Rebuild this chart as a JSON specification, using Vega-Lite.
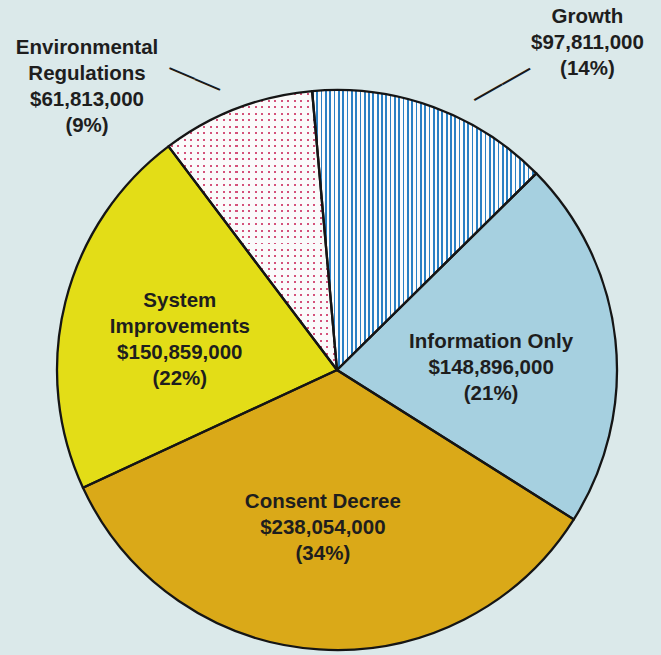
{
"$schema": "https://vega.github.io/schema/vega-lite/v6.json",
"width": 648,
"height": 570,
"autosize": {"type": "none"},
"padding": {"left": 13, "top": 85, "right": 0, "bottom": 0},
"background": "#dbe9ea",
"config": {"view": {"stroke": null}},
"data": {"values": [
{"order": 1, "name": "Growth", "value": 97811000},
{"order": 2, "name": "Information Only", "value": 148896000},
{"order": 3, "name": "Consent Decree", "value": 238054000},
{"order": 4, "name": "System\nImprovements", "value": 150859000},
{"order": 5, "name": "Environmental\nRegulations", "value": 61813000}
]},
"transform": [
{"joinaggregate": [{"op": "sum", "field": "value", "as": "total"}]},
{"stack": "value", "groupby": [], "sort": [{"field": "order", "order": "ascending"}], "as": ["v0", "v1"]},
{"calculate": "(datum.v0 + datum.v1) / 2", "as": "mid"},
{"calculate": "datum.name + '\\n' + format(datum.value, '$,') + '\\n(' + format(datum.value / datum.total, '.0%') + ')'", "as": "label"}
],
"layer": [
{"mark": {"type": "arc", "outerRadius": 280},
 "encoding": {
  "theta": {"field": "v1", "type": "quantitative", "scale": {"range": [-0.089, 6.1942], "nice": false, "zero": true}},
  "theta2": {"field": "v0"},
  "fill": {"field": "name", "type": "nominal", "legend": null, "scale": {"domain": ["Growth", "Information Only", "Consent Decree", "System\nImprovements", "Environmental\nRegulations"], "range": ["#fbfcfc", "#a6d0e0", "#daa918", "#e3dd17", "#fafafa"]}}
 }},
{"transform": [{"filter": "datum.order === 1"}],
 "mark": {"type": "arc", "outerRadius": 280, "fill": {"gradient": "linear", "x1": 0, "y1": 0, "x2": 1, "y2": 0, "stops": [
{"offset":0,"color":"#2a80c4"},{"offset":0.0077,"color":"#2a80c4"},{"offset":0.0077,"color":"#fbfcfc"},
{"offset":0.0192,"color":"#fbfcfc"},{"offset":0.0192,"color":"#2a80c4"},{"offset":0.0269,"color":"#2a80c4"},{"offset":0.0269,"color":"#fbfcfc"},
{"offset":0.0385,"color":"#fbfcfc"},{"offset":0.0385,"color":"#2a80c4"},{"offset":0.0462,"color":"#2a80c4"},{"offset":0.0462,"color":"#fbfcfc"},
{"offset":0.0577,"color":"#fbfcfc"},{"offset":0.0577,"color":"#2a80c4"},{"offset":0.0654,"color":"#2a80c4"},{"offset":0.0654,"color":"#fbfcfc"},
{"offset":0.0769,"color":"#fbfcfc"},{"offset":0.0769,"color":"#2a80c4"},{"offset":0.0846,"color":"#2a80c4"},{"offset":0.0846,"color":"#fbfcfc"},
{"offset":0.0962,"color":"#fbfcfc"},{"offset":0.0962,"color":"#2a80c4"},{"offset":0.1039,"color":"#2a80c4"},{"offset":0.1039,"color":"#fbfcfc"},
{"offset":0.1154,"color":"#fbfcfc"},{"offset":0.1154,"color":"#2a80c4"},{"offset":0.1231,"color":"#2a80c4"},{"offset":0.1231,"color":"#fbfcfc"},
{"offset":0.1346,"color":"#fbfcfc"},{"offset":0.1346,"color":"#2a80c4"},{"offset":0.1423,"color":"#2a80c4"},{"offset":0.1423,"color":"#fbfcfc"},
{"offset":0.1538,"color":"#fbfcfc"},{"offset":0.1538,"color":"#2a80c4"},{"offset":0.1615,"color":"#2a80c4"},{"offset":0.1615,"color":"#fbfcfc"},
{"offset":0.1731,"color":"#fbfcfc"},{"offset":0.1731,"color":"#2a80c4"},{"offset":0.1808,"color":"#2a80c4"},{"offset":0.1808,"color":"#fbfcfc"},
{"offset":0.1923,"color":"#fbfcfc"},{"offset":0.1923,"color":"#2a80c4"},{"offset":0.2,"color":"#2a80c4"},{"offset":0.2,"color":"#fbfcfc"},
{"offset":0.2115,"color":"#fbfcfc"},{"offset":0.2115,"color":"#2a80c4"},{"offset":0.2192,"color":"#2a80c4"},{"offset":0.2192,"color":"#fbfcfc"},
{"offset":0.2308,"color":"#fbfcfc"},{"offset":0.2308,"color":"#2a80c4"},{"offset":0.2385,"color":"#2a80c4"},{"offset":0.2385,"color":"#fbfcfc"},
{"offset":0.25,"color":"#fbfcfc"},{"offset":0.25,"color":"#2a80c4"},{"offset":0.2577,"color":"#2a80c4"},{"offset":0.2577,"color":"#fbfcfc"},
{"offset":0.2692,"color":"#fbfcfc"},{"offset":0.2692,"color":"#2a80c4"},{"offset":0.2769,"color":"#2a80c4"},{"offset":0.2769,"color":"#fbfcfc"},
{"offset":0.2885,"color":"#fbfcfc"},{"offset":0.2885,"color":"#2a80c4"},{"offset":0.2962,"color":"#2a80c4"},{"offset":0.2962,"color":"#fbfcfc"},
{"offset":0.3077,"color":"#fbfcfc"},{"offset":0.3077,"color":"#2a80c4"},{"offset":0.3154,"color":"#2a80c4"},{"offset":0.3154,"color":"#fbfcfc"},
{"offset":0.3269,"color":"#fbfcfc"},{"offset":0.3269,"color":"#2a80c4"},{"offset":0.3346,"color":"#2a80c4"},{"offset":0.3346,"color":"#fbfcfc"},
{"offset":0.3462,"color":"#fbfcfc"},{"offset":0.3462,"color":"#2a80c4"},{"offset":0.3539,"color":"#2a80c4"},{"offset":0.3539,"color":"#fbfcfc"},
{"offset":0.3654,"color":"#fbfcfc"},{"offset":0.3654,"color":"#2a80c4"},{"offset":0.3731,"color":"#2a80c4"},{"offset":0.3731,"color":"#fbfcfc"},
{"offset":0.3846,"color":"#fbfcfc"},{"offset":0.3846,"color":"#2a80c4"},{"offset":0.3923,"color":"#2a80c4"},{"offset":0.3923,"color":"#fbfcfc"},
{"offset":0.4038,"color":"#fbfcfc"},{"offset":0.4038,"color":"#2a80c4"},{"offset":0.4115,"color":"#2a80c4"},{"offset":0.4115,"color":"#fbfcfc"},
{"offset":0.4231,"color":"#fbfcfc"},{"offset":0.4231,"color":"#2a80c4"},{"offset":0.4308,"color":"#2a80c4"},{"offset":0.4308,"color":"#fbfcfc"},
{"offset":0.4423,"color":"#fbfcfc"},{"offset":0.4423,"color":"#2a80c4"},{"offset":0.45,"color":"#2a80c4"},{"offset":0.45,"color":"#fbfcfc"},
{"offset":0.4615,"color":"#fbfcfc"},{"offset":0.4615,"color":"#2a80c4"},{"offset":0.4692,"color":"#2a80c4"},{"offset":0.4692,"color":"#fbfcfc"},
{"offset":0.4808,"color":"#fbfcfc"},{"offset":0.4808,"color":"#2a80c4"},{"offset":0.4885,"color":"#2a80c4"},{"offset":0.4885,"color":"#fbfcfc"},
{"offset":0.5,"color":"#fbfcfc"},{"offset":0.5,"color":"#2a80c4"},{"offset":0.5077,"color":"#2a80c4"},{"offset":0.5077,"color":"#fbfcfc"},
{"offset":0.5192,"color":"#fbfcfc"},{"offset":0.5192,"color":"#2a80c4"},{"offset":0.5269,"color":"#2a80c4"},{"offset":0.5269,"color":"#fbfcfc"},
{"offset":0.5385,"color":"#fbfcfc"},{"offset":0.5385,"color":"#2a80c4"},{"offset":0.5462,"color":"#2a80c4"},{"offset":0.5462,"color":"#fbfcfc"},
{"offset":0.5577,"color":"#fbfcfc"},{"offset":0.5577,"color":"#2a80c4"},{"offset":0.5654,"color":"#2a80c4"},{"offset":0.5654,"color":"#fbfcfc"},
{"offset":0.5769,"color":"#fbfcfc"},{"offset":0.5769,"color":"#2a80c4"},{"offset":0.5846,"color":"#2a80c4"},{"offset":0.5846,"color":"#fbfcfc"},
{"offset":0.5962,"color":"#fbfcfc"},{"offset":0.5962,"color":"#2a80c4"},{"offset":0.6039,"color":"#2a80c4"},{"offset":0.6039,"color":"#fbfcfc"},
{"offset":0.6154,"color":"#fbfcfc"},{"offset":0.6154,"color":"#2a80c4"},{"offset":0.6231,"color":"#2a80c4"},{"offset":0.6231,"color":"#fbfcfc"},
{"offset":0.6346,"color":"#fbfcfc"},{"offset":0.6346,"color":"#2a80c4"},{"offset":0.6423,"color":"#2a80c4"},{"offset":0.6423,"color":"#fbfcfc"},
{"offset":0.6538,"color":"#fbfcfc"},{"offset":0.6538,"color":"#2a80c4"},{"offset":0.6615,"color":"#2a80c4"},{"offset":0.6615,"color":"#fbfcfc"},
{"offset":0.6731,"color":"#fbfcfc"},{"offset":0.6731,"color":"#2a80c4"},{"offset":0.6808,"color":"#2a80c4"},{"offset":0.6808,"color":"#fbfcfc"},
{"offset":0.6923,"color":"#fbfcfc"},{"offset":0.6923,"color":"#2a80c4"},{"offset":0.7,"color":"#2a80c4"},{"offset":0.7,"color":"#fbfcfc"},
{"offset":0.7115,"color":"#fbfcfc"},{"offset":0.7115,"color":"#2a80c4"},{"offset":0.7192,"color":"#2a80c4"},{"offset":0.7192,"color":"#fbfcfc"},
{"offset":0.7308,"color":"#fbfcfc"},{"offset":0.7308,"color":"#2a80c4"},{"offset":0.7385,"color":"#2a80c4"},{"offset":0.7385,"color":"#fbfcfc"},
{"offset":0.75,"color":"#fbfcfc"},{"offset":0.75,"color":"#2a80c4"},{"offset":0.7577,"color":"#2a80c4"},{"offset":0.7577,"color":"#fbfcfc"},
{"offset":0.7692,"color":"#fbfcfc"},{"offset":0.7692,"color":"#2a80c4"},{"offset":0.7769,"color":"#2a80c4"},{"offset":0.7769,"color":"#fbfcfc"},
{"offset":0.7885,"color":"#fbfcfc"},{"offset":0.7885,"color":"#2a80c4"},{"offset":0.7962,"color":"#2a80c4"},{"offset":0.7962,"color":"#fbfcfc"},
{"offset":0.8077,"color":"#fbfcfc"},{"offset":0.8077,"color":"#2a80c4"},{"offset":0.8154,"color":"#2a80c4"},{"offset":0.8154,"color":"#fbfcfc"},
{"offset":0.8269,"color":"#fbfcfc"},{"offset":0.8269,"color":"#2a80c4"},{"offset":0.8346,"color":"#2a80c4"},{"offset":0.8346,"color":"#fbfcfc"},
{"offset":0.8462,"color":"#fbfcfc"},{"offset":0.8462,"color":"#2a80c4"},{"offset":0.8539,"color":"#2a80c4"},{"offset":0.8539,"color":"#fbfcfc"},
{"offset":0.8654,"color":"#fbfcfc"},{"offset":0.8654,"color":"#2a80c4"},{"offset":0.8731,"color":"#2a80c4"},{"offset":0.8731,"color":"#fbfcfc"},
{"offset":0.8846,"color":"#fbfcfc"},{"offset":0.8846,"color":"#2a80c4"},{"offset":0.8923,"color":"#2a80c4"},{"offset":0.8923,"color":"#fbfcfc"},
{"offset":0.9038,"color":"#fbfcfc"},{"offset":0.9038,"color":"#2a80c4"},{"offset":0.9115,"color":"#2a80c4"},{"offset":0.9115,"color":"#fbfcfc"},
{"offset":0.9231,"color":"#fbfcfc"},{"offset":0.9231,"color":"#2a80c4"},{"offset":0.9308,"color":"#2a80c4"},{"offset":0.9308,"color":"#fbfcfc"},
{"offset":0.9423,"color":"#fbfcfc"},{"offset":0.9423,"color":"#2a80c4"},{"offset":0.95,"color":"#2a80c4"},{"offset":0.95,"color":"#fbfcfc"},
{"offset":0.9615,"color":"#fbfcfc"},{"offset":0.9615,"color":"#2a80c4"},{"offset":0.9692,"color":"#2a80c4"},{"offset":0.9692,"color":"#fbfcfc"},
{"offset":0.9808,"color":"#fbfcfc"},{"offset":0.9808,"color":"#2a80c4"},{"offset":0.9885,"color":"#2a80c4"},{"offset":0.9885,"color":"#fbfcfc"},
{"offset":1,"color":"#fbfcfc"}
 ]}},
 "encoding": {
  "theta": {"field": "v1", "type": "quantitative", "scale": {"range": [-0.089, 6.1942], "nice": false, "zero": true}},
  "theta2": {"field": "v0"}
 }},
{"transform": [{"filter": "datum.order === 5"}],
 "mark": {"type": "arc", "outerRadius": 280, "fill": {"gradient": "linear", "x1": 0, "y1": 0, "x2": 0, "y2": 1, "stops": [
{"offset":0,"color":"rgba(255,255,255,0)"},
{"offset":0.008,"color":"rgba(255,255,255,0)"},{"offset":0.008,"color":"#d4517a"},{"offset":0.015,"color":"#d4517a"},{"offset":0.015,"color":"rgba(255,255,255,0)"},
{"offset":0.0313,"color":"rgba(255,255,255,0)"},{"offset":0.0313,"color":"#d4517a"},{"offset":0.0383,"color":"#d4517a"},{"offset":0.0383,"color":"rgba(255,255,255,0)"},
{"offset":0.0545,"color":"rgba(255,255,255,0)"},{"offset":0.0545,"color":"#d4517a"},{"offset":0.0615,"color":"#d4517a"},{"offset":0.0615,"color":"rgba(255,255,255,0)"},
{"offset":0.0778,"color":"rgba(255,255,255,0)"},{"offset":0.0778,"color":"#d4517a"},{"offset":0.0848,"color":"#d4517a"},{"offset":0.0848,"color":"rgba(255,255,255,0)"},
{"offset":0.101,"color":"rgba(255,255,255,0)"},{"offset":0.101,"color":"#d4517a"},{"offset":0.108,"color":"#d4517a"},{"offset":0.108,"color":"rgba(255,255,255,0)"},
{"offset":0.1243,"color":"rgba(255,255,255,0)"},{"offset":0.1243,"color":"#d4517a"},{"offset":0.1313,"color":"#d4517a"},{"offset":0.1313,"color":"rgba(255,255,255,0)"},
{"offset":0.1475,"color":"rgba(255,255,255,0)"},{"offset":0.1475,"color":"#d4517a"},{"offset":0.1545,"color":"#d4517a"},{"offset":0.1545,"color":"rgba(255,255,255,0)"},
{"offset":0.1708,"color":"rgba(255,255,255,0)"},{"offset":0.1708,"color":"#d4517a"},{"offset":0.1778,"color":"#d4517a"},{"offset":0.1778,"color":"rgba(255,255,255,0)"},
{"offset":0.194,"color":"rgba(255,255,255,0)"},{"offset":0.194,"color":"#d4517a"},{"offset":0.201,"color":"#d4517a"},{"offset":0.201,"color":"rgba(255,255,255,0)"},
{"offset":0.2173,"color":"rgba(255,255,255,0)"},{"offset":0.2173,"color":"#d4517a"},{"offset":0.2243,"color":"#d4517a"},{"offset":0.2243,"color":"rgba(255,255,255,0)"},
{"offset":0.2406,"color":"rgba(255,255,255,0)"},{"offset":0.2406,"color":"#d4517a"},{"offset":0.2476,"color":"#d4517a"},{"offset":0.2476,"color":"rgba(255,255,255,0)"},
{"offset":0.2638,"color":"rgba(255,255,255,0)"},{"offset":0.2638,"color":"#d4517a"},{"offset":0.2708,"color":"#d4517a"},{"offset":0.2708,"color":"rgba(255,255,255,0)"},
{"offset":0.2871,"color":"rgba(255,255,255,0)"},{"offset":0.2871,"color":"#d4517a"},{"offset":0.2941,"color":"#d4517a"},{"offset":0.2941,"color":"rgba(255,255,255,0)"},
{"offset":0.3103,"color":"rgba(255,255,255,0)"},{"offset":0.3103,"color":"#d4517a"},{"offset":0.3173,"color":"#d4517a"},{"offset":0.3173,"color":"rgba(255,255,255,0)"},
{"offset":0.3336,"color":"rgba(255,255,255,0)"},{"offset":0.3336,"color":"#d4517a"},{"offset":0.3406,"color":"#d4517a"},{"offset":0.3406,"color":"rgba(255,255,255,0)"},
{"offset":0.3568,"color":"rgba(255,255,255,0)"},{"offset":0.3568,"color":"#d4517a"},{"offset":0.3638,"color":"#d4517a"},{"offset":0.3638,"color":"rgba(255,255,255,0)"},
{"offset":0.3801,"color":"rgba(255,255,255,0)"},{"offset":0.3801,"color":"#d4517a"},{"offset":0.3871,"color":"#d4517a"},{"offset":0.3871,"color":"rgba(255,255,255,0)"},
{"offset":0.4033,"color":"rgba(255,255,255,0)"},{"offset":0.4033,"color":"#d4517a"},{"offset":0.4103,"color":"#d4517a"},{"offset":0.4103,"color":"rgba(255,255,255,0)"},
{"offset":0.4266,"color":"rgba(255,255,255,0)"},{"offset":0.4266,"color":"#d4517a"},{"offset":0.4336,"color":"#d4517a"},{"offset":0.4336,"color":"rgba(255,255,255,0)"},
{"offset":0.4499,"color":"rgba(255,255,255,0)"},{"offset":0.4499,"color":"#d4517a"},{"offset":0.4569,"color":"#d4517a"},{"offset":0.4569,"color":"rgba(255,255,255,0)"},
{"offset":0.4731,"color":"rgba(255,255,255,0)"},{"offset":0.4731,"color":"#d4517a"},{"offset":0.4801,"color":"#d4517a"},{"offset":0.4801,"color":"rgba(255,255,255,0)"},
{"offset":0.4964,"color":"rgba(255,255,255,0)"},{"offset":0.4964,"color":"#d4517a"},{"offset":0.5034,"color":"#d4517a"},{"offset":0.5034,"color":"rgba(255,255,255,0)"},
{"offset":0.5196,"color":"rgba(255,255,255,0)"},{"offset":0.5196,"color":"#d4517a"},{"offset":0.5266,"color":"#d4517a"},{"offset":0.5266,"color":"rgba(255,255,255,0)"},
{"offset":0.5429,"color":"rgba(255,255,255,0)"},{"offset":0.5429,"color":"#d4517a"},{"offset":0.5499,"color":"#d4517a"},{"offset":0.5499,"color":"rgba(255,255,255,0)"},
{"offset":0.5661,"color":"rgba(255,255,255,0)"},{"offset":0.5661,"color":"#d4517a"},{"offset":0.5731,"color":"#d4517a"},{"offset":0.5731,"color":"rgba(255,255,255,0)"},
{"offset":0.5894,"color":"rgba(255,255,255,0)"},{"offset":0.5894,"color":"#d4517a"},{"offset":0.5964,"color":"#d4517a"},{"offset":0.5964,"color":"rgba(255,255,255,0)"},
{"offset":0.6127,"color":"rgba(255,255,255,0)"},{"offset":0.6127,"color":"#d4517a"},{"offset":0.6197,"color":"#d4517a"},{"offset":0.6197,"color":"rgba(255,255,255,0)"},
{"offset":0.6359,"color":"rgba(255,255,255,0)"},{"offset":0.6359,"color":"#d4517a"},{"offset":0.6429,"color":"#d4517a"},{"offset":0.6429,"color":"rgba(255,255,255,0)"},
{"offset":0.6592,"color":"rgba(255,255,255,0)"},{"offset":0.6592,"color":"#d4517a"},{"offset":0.6662,"color":"#d4517a"},{"offset":0.6662,"color":"rgba(255,255,255,0)"},
{"offset":0.6824,"color":"rgba(255,255,255,0)"},{"offset":0.6824,"color":"#d4517a"},{"offset":0.6894,"color":"#d4517a"},{"offset":0.6894,"color":"rgba(255,255,255,0)"},
{"offset":0.7057,"color":"rgba(255,255,255,0)"},{"offset":0.7057,"color":"#d4517a"},{"offset":0.7127,"color":"#d4517a"},{"offset":0.7127,"color":"rgba(255,255,255,0)"},
{"offset":0.7289,"color":"rgba(255,255,255,0)"},{"offset":0.7289,"color":"#d4517a"},{"offset":0.7359,"color":"#d4517a"},{"offset":0.7359,"color":"rgba(255,255,255,0)"},
{"offset":0.7522,"color":"rgba(255,255,255,0)"},{"offset":0.7522,"color":"#d4517a"},{"offset":0.7592,"color":"#d4517a"},{"offset":0.7592,"color":"rgba(255,255,255,0)"},
{"offset":0.7754,"color":"rgba(255,255,255,0)"},{"offset":0.7754,"color":"#d4517a"},{"offset":0.7824,"color":"#d4517a"},{"offset":0.7824,"color":"rgba(255,255,255,0)"},
{"offset":0.7987,"color":"rgba(255,255,255,0)"},{"offset":0.7987,"color":"#d4517a"},{"offset":0.8057,"color":"#d4517a"},{"offset":0.8057,"color":"rgba(255,255,255,0)"},
{"offset":0.822,"color":"rgba(255,255,255,0)"},{"offset":0.822,"color":"#d4517a"},{"offset":0.829,"color":"#d4517a"},{"offset":0.829,"color":"rgba(255,255,255,0)"},
{"offset":0.8452,"color":"rgba(255,255,255,0)"},{"offset":0.8452,"color":"#d4517a"},{"offset":0.8522,"color":"#d4517a"},{"offset":0.8522,"color":"rgba(255,255,255,0)"},
{"offset":0.8685,"color":"rgba(255,255,255,0)"},{"offset":0.8685,"color":"#d4517a"},{"offset":0.8755,"color":"#d4517a"},{"offset":0.8755,"color":"rgba(255,255,255,0)"},
{"offset":0.8917,"color":"rgba(255,255,255,0)"},{"offset":0.8917,"color":"#d4517a"},{"offset":0.8987,"color":"#d4517a"},{"offset":0.8987,"color":"rgba(255,255,255,0)"},
{"offset":0.915,"color":"rgba(255,255,255,0)"},{"offset":0.915,"color":"#d4517a"},{"offset":0.922,"color":"#d4517a"},{"offset":0.922,"color":"rgba(255,255,255,0)"},
{"offset":0.9382,"color":"rgba(255,255,255,0)"},{"offset":0.9382,"color":"#d4517a"},{"offset":0.9452,"color":"#d4517a"},{"offset":0.9452,"color":"rgba(255,255,255,0)"},
{"offset":0.9615,"color":"rgba(255,255,255,0)"},{"offset":0.9615,"color":"#d4517a"},{"offset":0.9685,"color":"#d4517a"},{"offset":0.9685,"color":"rgba(255,255,255,0)"},
{"offset":0.9847,"color":"rgba(255,255,255,0)"},{"offset":0.9847,"color":"#d4517a"},{"offset":0.9917,"color":"#d4517a"},{"offset":0.9917,"color":"rgba(255,255,255,0)"},
{"offset":1,"color":"rgba(255,255,255,0)"}
 ]}},
 "encoding": {
  "theta": {"field": "v1", "type": "quantitative", "scale": {"range": [-0.089, 6.1942], "nice": false, "zero": true}},
  "theta2": {"field": "v0"}
 }},
{"transform": [{"filter": "datum.order === 5"}],
 "mark": {"type": "arc", "outerRadius": 280, "fill": {"gradient": "linear", "x1": 0, "y1": 0, "x2": 1, "y2": 0, "stops": [
{"offset":0,"color":"#fafafa"},
{"offset":0.013,"color":"#fafafa"},{"offset":0.013,"color":"rgba(255,255,255,0)"},{"offset":0.025,"color":"rgba(255,255,255,0)"},{"offset":0.025,"color":"#fafafa"},
{"offset":0.0515,"color":"#fafafa"},{"offset":0.0515,"color":"rgba(255,255,255,0)"},{"offset":0.0635,"color":"rgba(255,255,255,0)"},{"offset":0.0635,"color":"#fafafa"},
{"offset":0.0899,"color":"#fafafa"},{"offset":0.0899,"color":"rgba(255,255,255,0)"},{"offset":0.1019,"color":"rgba(255,255,255,0)"},{"offset":0.1019,"color":"#fafafa"},
{"offset":0.1284,"color":"#fafafa"},{"offset":0.1284,"color":"rgba(255,255,255,0)"},{"offset":0.1404,"color":"rgba(255,255,255,0)"},{"offset":0.1404,"color":"#fafafa"},
{"offset":0.1668,"color":"#fafafa"},{"offset":0.1668,"color":"rgba(255,255,255,0)"},{"offset":0.1788,"color":"rgba(255,255,255,0)"},{"offset":0.1788,"color":"#fafafa"},
{"offset":0.2053,"color":"#fafafa"},{"offset":0.2053,"color":"rgba(255,255,255,0)"},{"offset":0.2173,"color":"rgba(255,255,255,0)"},{"offset":0.2173,"color":"#fafafa"},
{"offset":0.2438,"color":"#fafafa"},{"offset":0.2438,"color":"rgba(255,255,255,0)"},{"offset":0.2558,"color":"rgba(255,255,255,0)"},{"offset":0.2558,"color":"#fafafa"},
{"offset":0.2822,"color":"#fafafa"},{"offset":0.2822,"color":"rgba(255,255,255,0)"},{"offset":0.2942,"color":"rgba(255,255,255,0)"},{"offset":0.2942,"color":"#fafafa"},
{"offset":0.3207,"color":"#fafafa"},{"offset":0.3207,"color":"rgba(255,255,255,0)"},{"offset":0.3327,"color":"rgba(255,255,255,0)"},{"offset":0.3327,"color":"#fafafa"},
{"offset":0.3592,"color":"#fafafa"},{"offset":0.3592,"color":"rgba(255,255,255,0)"},{"offset":0.3712,"color":"rgba(255,255,255,0)"},{"offset":0.3712,"color":"#fafafa"},
{"offset":0.3976,"color":"#fafafa"},{"offset":0.3976,"color":"rgba(255,255,255,0)"},{"offset":0.4096,"color":"rgba(255,255,255,0)"},{"offset":0.4096,"color":"#fafafa"},
{"offset":0.4361,"color":"#fafafa"},{"offset":0.4361,"color":"rgba(255,255,255,0)"},{"offset":0.4481,"color":"rgba(255,255,255,0)"},{"offset":0.4481,"color":"#fafafa"},
{"offset":0.4745,"color":"#fafafa"},{"offset":0.4745,"color":"rgba(255,255,255,0)"},{"offset":0.4865,"color":"rgba(255,255,255,0)"},{"offset":0.4865,"color":"#fafafa"},
{"offset":0.513,"color":"#fafafa"},{"offset":0.513,"color":"rgba(255,255,255,0)"},{"offset":0.525,"color":"rgba(255,255,255,0)"},{"offset":0.525,"color":"#fafafa"},
{"offset":0.5515,"color":"#fafafa"},{"offset":0.5515,"color":"rgba(255,255,255,0)"},{"offset":0.5635,"color":"rgba(255,255,255,0)"},{"offset":0.5635,"color":"#fafafa"},
{"offset":0.5899,"color":"#fafafa"},{"offset":0.5899,"color":"rgba(255,255,255,0)"},{"offset":0.6019,"color":"rgba(255,255,255,0)"},{"offset":0.6019,"color":"#fafafa"},
{"offset":0.6284,"color":"#fafafa"},{"offset":0.6284,"color":"rgba(255,255,255,0)"},{"offset":0.6404,"color":"rgba(255,255,255,0)"},{"offset":0.6404,"color":"#fafafa"},
{"offset":0.6668,"color":"#fafafa"},{"offset":0.6668,"color":"rgba(255,255,255,0)"},{"offset":0.6788,"color":"rgba(255,255,255,0)"},{"offset":0.6788,"color":"#fafafa"},
{"offset":0.7053,"color":"#fafafa"},{"offset":0.7053,"color":"rgba(255,255,255,0)"},{"offset":0.7173,"color":"rgba(255,255,255,0)"},{"offset":0.7173,"color":"#fafafa"},
{"offset":0.7438,"color":"#fafafa"},{"offset":0.7438,"color":"rgba(255,255,255,0)"},{"offset":0.7558,"color":"rgba(255,255,255,0)"},{"offset":0.7558,"color":"#fafafa"},
{"offset":0.7822,"color":"#fafafa"},{"offset":0.7822,"color":"rgba(255,255,255,0)"},{"offset":0.7942,"color":"rgba(255,255,255,0)"},{"offset":0.7942,"color":"#fafafa"},
{"offset":0.8207,"color":"#fafafa"},{"offset":0.8207,"color":"rgba(255,255,255,0)"},{"offset":0.8327,"color":"rgba(255,255,255,0)"},{"offset":0.8327,"color":"#fafafa"},
{"offset":0.8592,"color":"#fafafa"},{"offset":0.8592,"color":"rgba(255,255,255,0)"},{"offset":0.8712,"color":"rgba(255,255,255,0)"},{"offset":0.8712,"color":"#fafafa"},
{"offset":0.8976,"color":"#fafafa"},{"offset":0.8976,"color":"rgba(255,255,255,0)"},{"offset":0.9096,"color":"rgba(255,255,255,0)"},{"offset":0.9096,"color":"#fafafa"},
{"offset":0.9361,"color":"#fafafa"},{"offset":0.9361,"color":"rgba(255,255,255,0)"},{"offset":0.9481,"color":"rgba(255,255,255,0)"},{"offset":0.9481,"color":"#fafafa"},
{"offset":0.9745,"color":"#fafafa"},{"offset":0.9745,"color":"rgba(255,255,255,0)"},{"offset":0.9865,"color":"rgba(255,255,255,0)"},{"offset":0.9865,"color":"#fafafa"},
{"offset":1,"color":"#fafafa"}
 ]}},
 "encoding": {
  "theta": {"field": "v1", "type": "quantitative", "scale": {"range": [-0.089, 6.1942], "nice": false, "zero": true}},
  "theta2": {"field": "v0"}
 }},
{"mark": {"type": "arc", "outerRadius": 280, "filled": false, "stroke": "#151515", "strokeWidth": 2.3, "strokeJoin": "round"},
 "encoding": {
  "theta": {"field": "v1", "type": "quantitative", "scale": {"range": [-0.089, 6.1942], "nice": false, "zero": true}},
  "theta2": {"field": "v0"}
 }},
{"transform": [{"filter": "datum.order === 2"}],
 "mark": {"type": "text", "align": "center", "baseline": "middle", "font": "Liberation Sans", "fontSize": 20.5, "fontWeight": "bold", "lineHeight": 26, "lineBreak": "\n", "fill": "#1e1e1e", "dx": 1, "dy": -11.5},
 "encoding": {
  "theta": {"field": "mid", "type": "quantitative", "scale": {"range": [-0.089, 6.1942], "nice": false, "zero": true}},
  "radius": {"value": 154},
  "text": {"field": "label"}
 }},
{"transform": [{"filter": "datum.order === 3"}],
 "mark": {"type": "text", "align": "center", "baseline": "middle", "font": "Liberation Sans", "fontSize": 20.5, "fontWeight": "bold", "lineHeight": 26, "lineBreak": "\n", "fill": "#1e1e1e", "dx": -4, "dy": -25},
 "encoding": {
  "theta": {"field": "mid", "type": "quantitative", "scale": {"range": [-0.089, 6.1942], "nice": false, "zero": true}},
  "radius": {"value": 157.6},
  "text": {"field": "label"}
 }},
{"transform": [{"filter": "datum.order === 4"}],
 "mark": {"type": "text", "align": "center", "baseline": "middle", "font": "Liberation Sans", "fontSize": 20.5, "fontWeight": "bold", "lineHeight": 26, "lineBreak": "\n", "fill": "#1e1e1e", "dx": -2, "dy": -30},
 "encoding": {
  "theta": {"field": "mid", "type": "quantitative", "scale": {"range": [-0.089, 6.1942], "nice": false, "zero": true}},
  "radius": {"value": 160},
  "text": {"field": "label"}
 }},
{"transform": [{"filter": "datum.order === 1"}],
 "mark": {"type": "text", "align": "center", "baseline": "middle", "font": "Liberation Sans", "fontSize": 20.5, "fontWeight": "bold", "lineHeight": 26, "lineBreak": "\n", "fill": "#1e1e1e", "dx": 154, "dy": -90.5},
 "encoding": {
  "theta": {"field": "mid", "type": "quantitative", "scale": {"range": [-0.089, 6.1942], "nice": false, "zero": true}},
  "radius": {"value": 280},
  "text": {"field": "label"}
 }},
{"transform": [{"filter": "datum.order === 5"}],
 "mark": {"type": "text", "align": "center", "baseline": "middle", "font": "Liberation Sans", "fontSize": 20.5, "fontWeight": "bold", "lineHeight": 26, "lineBreak": "\n", "fill": "#1e1e1e", "dx": -149.4, "dy": -60.7},
 "encoding": {
  "theta": {"field": "mid", "type": "quantitative", "scale": {"range": [-0.089, 6.1942], "nice": false, "zero": true}},
  "radius": {"value": 280},
  "text": {"field": "label"}
 }},
{"transform": [{"filter": "datum.order === 1"}],
 "mark": {"type": "text", "text": "——", "align": "center", "baseline": "middle", "font": "Liberation Sans", "fontSize": 32, "angle": 330.5, "dx": 71, "dy": 12.3, "fill": "#1a1a1a"},
 "encoding": {
  "theta": {"field": "mid", "type": "quantitative", "scale": {"range": [-0.089, 6.1942], "nice": false, "zero": true}},
  "radius": {"value": 280}
 }},
{"transform": [{"filter": "datum.order === 5"}],
 "mark": {"type": "text", "text": "——", "align": "center", "baseline": "middle", "font": "Liberation Sans", "fontSize": 27.5, "angle": 23.2, "dx": -50, "dy": -11.9, "fill": "#1a1a1a"},
 "encoding": {
  "theta": {"field": "mid", "type": "quantitative", "scale": {"range": [-0.089, 6.1942], "nice": false, "zero": true}},
  "radius": {"value": 280}
 }}
]
}
